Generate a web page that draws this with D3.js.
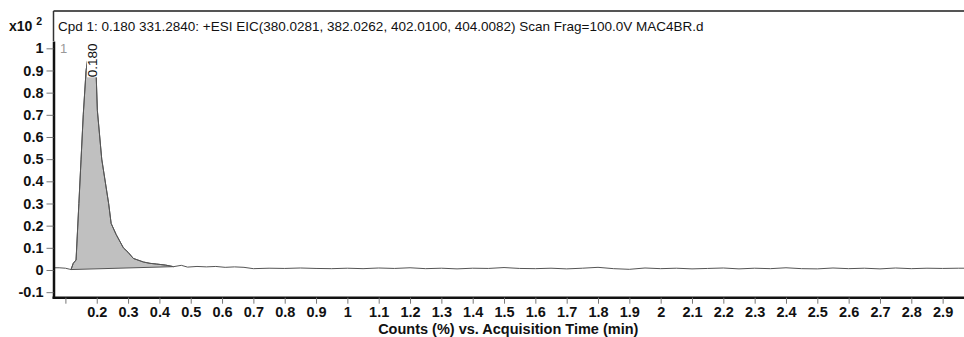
<!DOCTYPE html>
<html>
<head>
	<title>EIC Chromatogram</title>
	<meta charset="utf-8">
	<script src="https://cdnjs.cloudflare.com/ajax/libs/d3/7.8.5/d3.min.js"></script>
	<style>
	body { margin: 0; background: #fff; }
	svg { font-family: "Liberation Sans", Arial, sans-serif; display: block; }
	.axis .domain { stroke: #111; stroke-width: 2.5px; }
	.axis .tick line { stroke: #777; }
	.axis .tick text { font-size: 14.5px; font-weight: bold; fill: #111; }
	.trace { fill: none; stroke: #555; stroke-width: 1px; }
	.peak { fill: #c0c0c0; stroke: #555; stroke-width: 1px; }
	</style>
</head>

<body>
<svg id="chart" width="964" height="337"></svg>

<script type="text/javascript">

  // acquisition time (min) and counts (x10^2)
  var times = [0.062, 0.08, 0.10, 0.112, 0.118, 0.125, 0.134, 0.143, 0.150, 0.157, 0.166, 0.174, 0.180,
    0.186, 0.194, 0.198, 0.202, 0.216, 0.238, 0.246, 0.262, 0.285, 0.300, 0.317, 0.335, 0.349, 0.37,
    0.39, 0.42, 0.445, 0.47, 0.49, 0.52, 0.55, 0.58, 0.61, 0.64, 0.67, 0.70, 0.75, 0.80, 0.85, 0.90,
    0.95, 1.00, 1.05, 1.10, 1.15, 1.20, 1.25, 1.30, 1.35, 1.40, 1.45, 1.50, 1.55, 1.60, 1.65, 1.70,
    1.75, 1.80, 1.85, 1.90, 1.95, 2.00, 2.05, 2.10, 2.15, 2.20, 2.25, 2.30, 2.35, 2.40, 2.45, 2.50,
    2.55, 2.60, 2.65, 2.70, 2.75, 2.80, 2.85, 2.90, 2.95, 2.97];
  var counts = [0.010, 0.010, 0.008, 0.004, 0.002, 0.030, 0.045, 0.300, 0.500, 0.700, 0.900, 0.980, 1.000,
    0.980, 0.920, 0.890, 0.720, 0.500, 0.300, 0.210, 0.160, 0.100, 0.080, 0.052, 0.043, 0.036, 0.030,
    0.027, 0.022, 0.015, 0.021, 0.013, 0.016, 0.014, 0.016, 0.012, 0.014, 0.012, 0.006, 0.008, 0.007, 0.009, 0.007,
    0.006, 0.008, 0.006, 0.009, 0.007, 0.010, 0.006, 0.008, 0.005, 0.008, 0.007, 0.011, 0.007, 0.006, 0.008, 0.005,
    0.008, 0.012, 0.006, 0.003, 0.009, 0.006, 0.008, 0.005, 0.007, 0.009, 0.005, 0.008, 0.006, 0.010, 0.006, 0.005,
    0.009, 0.006, 0.008, 0.005, 0.009, 0.006, 0.008, 0.007, 0.008, 0.008];

  // integrated peak: start / apex / end times
  var peakStart = 0.118, peakApex = 0.180, peakEnd = 0.445;
  var peakLabel = "0.180";

  var xTicks = [0.1, 0.2, 0.3, 0.4, 0.5, 0.6, 0.7, 0.8, 0.9, 1, 1.1, 1.2, 1.3, 1.4, 1.5, 1.6, 1.7, 1.8, 1.9,
    2, 2.1, 2.2, 2.3, 2.4, 2.5, 2.6, 2.7, 2.8, 2.9];
  var xTickLabels = ["", "0.2", "0.3", "0.4", "0.5", "0.6", "0.7", "0.8", "0.9", "1", "1.1", "1.2", "1.3", "1.4",
    "1.5", "1.6", "1.7", "1.8", "1.9", "2", "2.1", "2.2", "2.3", "2.4", "2.5", "2.6", "2.7", "2.8", "2.9"];
  var yTicks = [-0.1, 0, 0.1, 0.2, 0.3, 0.4, 0.5, 0.6, 0.7, 0.8, 0.9, 1];
  var yTickLabels = ["-0.1", "0", "0.1", "0.2", "0.3", "0.4", "0.5", "0.6", "0.7", "0.8", "0.9", "1"];

  var title = "Cpd 1: 0.180 331.2840: +ESI EIC(380.0281, 382.0262, 402.0100, 404.0082) Scan Frag=100.0V MAC4BR.d";
  var xLabel = "Counts (%) vs. Acquisition Time (min)";

  var data = times.map(function(t, i) { return {t: t, c: counts[i]}; });

  var svg = d3.select("svg"),
      plotLeft = 53.5, plotRight = 963, plotTop = 41, plotBottom = 297.7;

  var x = d3.scaleLinear().domain([0.062, 2.965]).range([plotLeft, plotRight]),
      y = d3.scaleLinear().domain([-0.125, 1.033]).range([plotBottom, plotTop]);

  var line = d3.line()
    .x(function(d) { return x(d.t); })
    .y(function(d) { return y(d.c); });

  // frame above plot
  svg.append("line")
      .attr("x1", plotLeft).attr("x2", 964).attr("y1", 11).attr("y2", 11)
      .attr("stroke", "#555").attr("stroke-width", 2);
  svg.append("line")
      .attr("x1", plotLeft).attr("x2", plotLeft).attr("y1", 11).attr("y2", plotTop)
      .attr("stroke", "#333").attr("stroke-width", 1.5);

  svg.append("text")
      .attr("x", 58).attr("y", 31)
      .style("font-size", "13.5px")
      .attr("fill", "#111")
      .text(title);

  var mult = svg.append("text")
      .attr("x", 9).attr("y", 31)
      .style("font-size", "14px")
      .style("font-weight", "bold")
      .attr("fill", "#111");
  mult.append("tspan").text("x10 ");
  mult.append("tspan").attr("dy", -6).style("font-size", "10.5px").text("2");

  // peak fill (closed back to start along the integration baseline)
  var peakPts = data.filter(function(d) { return d.t >= peakStart && d.t <= peakEnd; });
  svg.append("path")
      .attr("class", "peak")
      .attr("d", line(peakPts) + "Z");

  svg.append("path")
      .attr("class", "trace")
      .attr("d", line(data));

  // peak label
  var apex = data.filter(function(d) { return d.t === peakApex; })[0];
  var lbl = svg.append("g")
      .attr("transform", "translate(" + (x(apex.t) + 1.5) + "," + (y(apex.c) + 29) + ") rotate(-90)");
  lbl.append("rect")
      .attr("x", 0).attr("y", -5).attr("width", 35).attr("height", 10)
      .attr("fill", "#fff");
  lbl.append("text")
      .attr("dy", "0.35em")
      .style("font-size", "13.5px")
      .attr("fill", "#111")
      .text(peakLabel);

  svg.append("text")
      .attr("x", 60).attr("y", 53)
      .style("font-size", "13px")
      .attr("fill", "#999")
      .text("1");

  svg.append("g")
      .attr("class", "axis axis--x")
      .attr("transform", "translate(0," + plotBottom + ")")
      .call(d3.axisBottom(x).tickValues(xTicks).tickSize(6).tickSizeOuter(0).tickPadding(3)
        .tickFormat(function(d, i) { return xTickLabels[i]; }));

  svg.append("g")
      .attr("class", "axis axis--y")
      .attr("transform", "translate(" + plotLeft + ",0)")
      .call(d3.axisLeft(y).tickValues(yTicks).tickSize(7).tickSizeOuter(0).tickPadding(3)
        .tickFormat(function(d, i) { return yTickLabels[i]; }));

  svg.select(".axis--x .domain").attr("d", "M" + (plotLeft - 1) + ",0H964");

  svg.append("text")
      .attr("x", (plotLeft + plotRight) / 2).attr("y", 334)
      .style("text-anchor", "middle")
      .style("font-size", "14.5px")
      .style("font-weight", "bold")
      .attr("fill", "#111")
      .text(xLabel);

</script>

</body>
</html>
